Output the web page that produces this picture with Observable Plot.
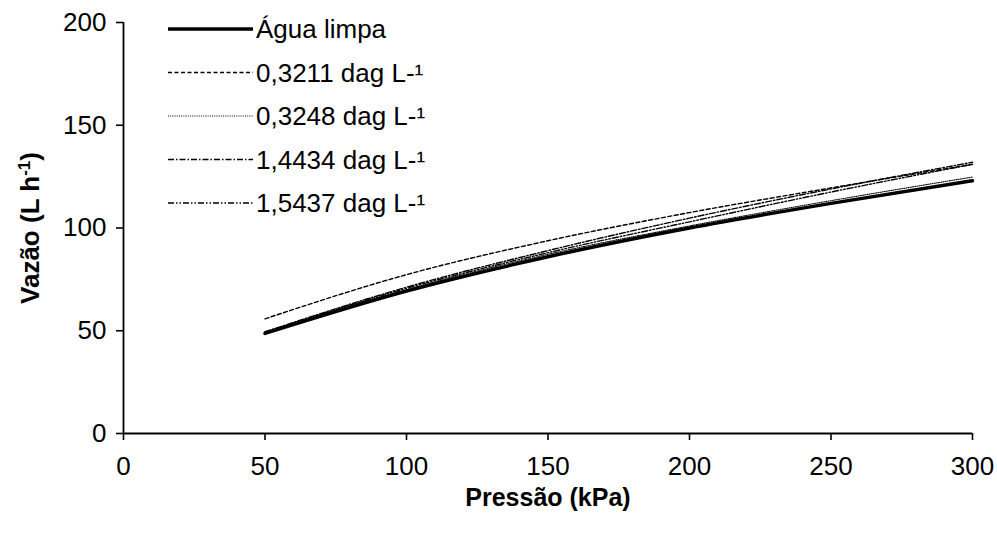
<!DOCTYPE html>
<html>
<head>
<meta charset="utf-8">
<script src="https://cdn.jsdelivr.net/npm/d3@7"></script>
<script src="https://cdn.jsdelivr.net/npm/@observablehq/plot@0.6"></script>
<style>
  html, body { margin: 0; padding: 0; background: #fff; }
  #wrap { position: relative; width: 997px; height: 533px; font-family: "Liberation Sans", Arial, sans-serif; }
  #legend { position: absolute; left: 0; top: 0; }
</style>
</head>
<body>
<div id="wrap"></div>
<script>
const pressure = [50, 100, 150, 200, 250, 300];
const seriesNames = ["Água limpa", "0,3211 dag L-¹", "0,3248 dag L-¹", "1,4434 dag L-¹", "1,5437 dag L-¹"];
const aguaLimpa = [48.7, 69.3, 86.0, 100.0, 112.0, 123.0];
const c03211   = [55.8, 77.3, 93.8, 107.5, 119.5, 131.0];
const c03248   = [49.2, 70.0, 87.2, 101.0, 113.3, 124.8];
const c14434   = [49.5, 71.2, 89.0, 104.8, 119.0, 132.0];
const c15437   = [49.3, 70.6, 88.0, 103.0, 117.5, 131.0];
const xTicks = [0, 50, 100, 150, 200, 250, 300];
const yTicks = [0, 50, 100, 150, 200];
const xLabel = "Pressão (kPa)";
const yLabelMain = "Vazão (L h";
const yLabelSup = "-1";
const yLabelEnd = ")";

const seriesValues = [aguaLimpa, c03211, c03248, c14434, c15437];
const styles = [
  {strokeWidth: 3.4, dash: null},
  {strokeWidth: 1.4, dash: "4,2.5"},
  {strokeWidth: 1.1, dash: "1,1.2"},
  {strokeWidth: 1.4, dash: "6,2,1.5,2"},
  {strokeWidth: 1.4, dash: "6,2,1.5,2,1.5,2"}
];

const data = [];
seriesNames.forEach((name, i) => {
  pressure.forEach((p, j) => data.push({series: name, idx: i, x: p, y: seriesValues[i][j]}));
});

const lineMarks = seriesNames.map((name, i) =>
  Plot.line(data.filter(d => d.idx === i), {
    x: "x", y: "y", stroke: "black",
    strokeWidth: styles[i].strokeWidth,
    strokeDasharray: styles[i].dash,
    curve: "monotone-x"
  })
);

const FONT = '"Liberation Sans", Arial, sans-serif';
const chart = Plot.plot({
  width: 997,
  height: 533,
  marginLeft: 123,
  marginRight: 25,
  marginTop: 22,
  marginBottom: 100,
  style: {fontFamily: FONT, fontSize: "26px", color: "black", background: "white"},
  x: {domain: [0, 300], label: null},
  y: {domain: [0, 200], label: null},
  marks: [
    Plot.axisX({ticks: xTicks, tickSize: 7, tickPadding: 16, strokeWidth: 1.6, fontSize: 26, label: null}),
    Plot.axisY({ticks: yTicks, tickSize: 7, tickPadding: 10, strokeWidth: 1.6, fontSize: 26, label: null}),
    Plot.ruleX([0], {strokeWidth: 1.8}),
    Plot.ruleY([0], {strokeWidth: 1.8}),
    ...lineMarks,
    Plot.text([xLabel], {frameAnchor: "bottom", lineAnchor: "middle", dy: 64, fontWeight: "bold", fontSize: 25}),
    Plot.text([yLabelMain], {frameAnchor: "left", dx: -93, rotate: -90, textAnchor: "middle", fontWeight: "bold", fontSize: 26})
  ]
});

const wrap = document.getElementById("wrap");
wrap.appendChild(chart);

// Add the superscript to the y-axis title
d3.select(chart).selectAll("text").filter(function() { return this.textContent === yLabelMain; })
  .each(function() {
    const t = d3.select(this);
    t.append("tspan").attr("baseline-shift", "super").attr("font-size", 17).text(yLabelSup);
    t.append("tspan").text(yLabelEnd);
  });

// Legend overlay
const legend = d3.select(wrap).append("svg")
  .attr("id", "legend")
  .attr("width", 997).attr("height", 533)
  .style("font-family", FONT);
const rowY = i => 29 + i * 43.5;
seriesNames.forEach((name, i) => {
  legend.append("line")
    .attr("x1", 168).attr("x2", 253)
    .attr("y1", rowY(i)).attr("y2", rowY(i))
    .attr("stroke", "black")
    .attr("stroke-width", styles[i].strokeWidth)
    .attr("stroke-dasharray", styles[i].dash);
  legend.append("text")
    .attr("x", 256).attr("y", rowY(i))
    .attr("dy", "0.35em")
    .attr("font-size", 26)
    .attr("fill", "black")
    .text(name);
});
</script>
</body>
</html>
